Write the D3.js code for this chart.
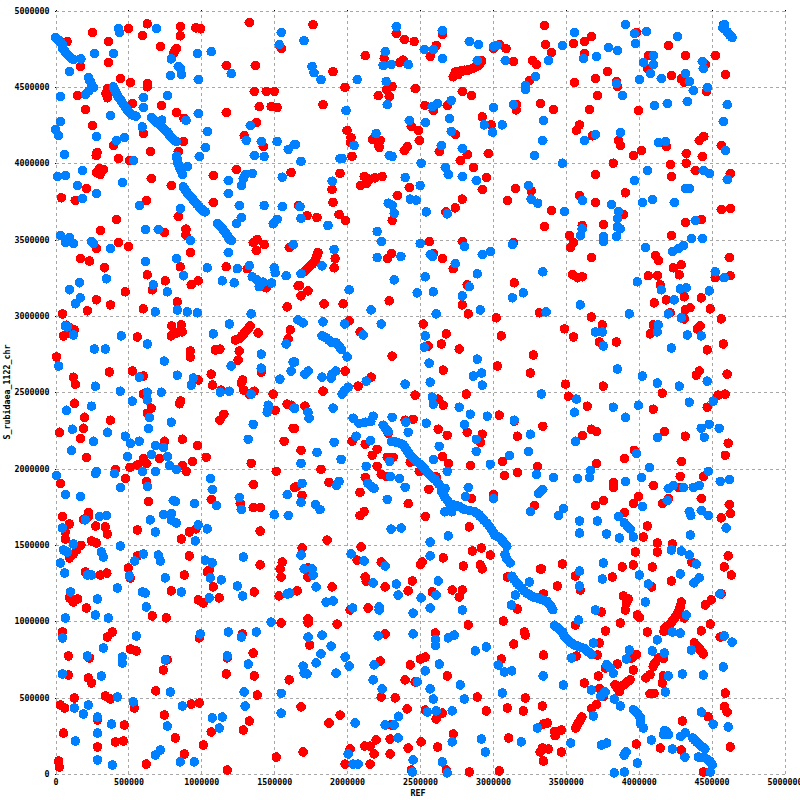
<!DOCTYPE html>
<html><head><meta charset="utf-8">
<script src="https://cdn.jsdelivr.net/npm/d3@7/dist/d3.min.js"></script>
<style>html,body{margin:0;padding:0;background:#fff}svg{display:block}</style>
</head><body><div id="chart"></div>
<script>
const xLabel="REF";
const yLabel="S_rubidaea_1122_chr";
const xTicks=[0,500000,1000000,1500000,2000000,2500000,3000000,3500000,4000000,4500000,5000000];
const yTicks=[0,500000,1000000,1500000,2000000,2500000,3000000,3500000,4000000,4500000,5000000];
// match positions [REF, query] in kilobases
const forwardHits=[
[253,4856],[363,4797],[80,4797],[502,4882],[630,4913],[596,4836],[856,4895],[856,4834],[719,4764],[963,4886],[995,4880],[1329,4921],[820,4740],[831,4751],[813,4723],[363,4659],[171,4633],[1171,4640],[1370,4640],[1548,4751],[445,4555],[514,4528],[630,4522],[630,4500],[356,4489],[347,4456],[356,4428],[363,4460],[151,4443],[527,4391],[726,4378],[205,4352],[829,4332],[1171,4332],[881,4293],[1363,4470],[1445,4470],[1500,4470],[1397,4371],[1479,4371],[1520,4365],[1377,4266],[253,4247],[605,4194],[1294,4181],[877,4142],[397,4116],[285,4070],[279,4050],[651,4077],[842,4077],[1425,4109],[431,4031],[507,4018],[301,3965],[329,3959],[283,3939],[306,3926],[1240,3959],[1082,3919],[1616,3939],[657,3900],[794,3854],[212,3834],[41,3773],[135,3756],[623,3756],[1082,3743],[842,3651],[418,3631],[308,3559],[895,3568],[895,3529],[747,3546],[431,3480],[500,3454],[281,3441],[1383,3500],[1356,3480],[1377,3428],[1431,3467],[1603,3448],[925,3415],[171,3376],
[1766,4908],[1904,4600],[2124,4705],[2337,4849],[2392,4810],[2460,4797],[2254,4686],[2362,4659],[2385,4675],[2611,4771],[2570,4699],[2653,4843],[3044,4777],[3090,4751],[3003,4751],[3140,4666],[3271,4673],[3298,4646],[3250,4541],[2728,4566],[2744,4598],[2808,4609],[2843,4614],[2877,4627],[2907,4646],[2923,4670],[2762,4581],[2785,4605],[2827,4609],[1986,4496],[2213,4443],[2309,4502],[2270,4483],[2289,4437],[2467,4489],[2790,4470],[2852,4443],[1835,4384],[2534,4378],[2591,4345],[2687,4378],[3161,4384],[3161,4349],[3326,4391],[2927,4303],[2989,4251],[2440,4240],[2488,4214],[2000,4214],[2027,4168],[2023,4135],[2176,4155],[2227,4149],[2213,4129],[2220,4103],[2495,4149],[2412,4109],[2392,4083],[2632,4077],[2744,4188],[2824,4057],[2968,4064],[2034,4044],[2776,4018],[2866,3972],[2955,3906],[2927,3828],[1952,3933],[2117,3913],[2190,3904],[2240,3913],[2135,3867],[2092,3854],[2156,3895],[1897,3828],[1904,3743],[2426,3841],[2344,3788],[2790,3765],[2742,3707],[2678,3681],[3154,3834],[3264,3819],[3099,3756],[1668,3723],[1725,3657],[1793,3644],[1945,3664],[1989,3625],[2309,3625],[2563,3487],[2790,3487],[3140,3480],[1911,3435],[1918,3376],[1800,3415],[1789,3387],[1778,3358],[2277,3376],[2305,3409],[2591,3409],[2653,3376],
[3354,4902],[3361,4777],[3402,4725],[3553,4784],[3628,4797],[3628,4718],[3676,4830],[3785,4600],[3703,4555],[3559,4528],[3847,4535],[3854,4502],[3717,4443],[3416,4352],[3662,4352],[3998,4345],[3594,4251],[3573,4216],[3683,4179],[3861,4149],[3874,4116],[4018,4083],[3963,4050],[3826,4000],[3703,3926],[3594,3787],[3909,3806],[3703,3743],[3402,3690],[3354,3586],[3612,3592],[3758,3599],[3895,3664],[3525,3526],[3553,3480],[3532,3448],[3676,3382],[4066,4705],[4059,4620],[3986,4856],[4205,4771],[4320,4705],[4525,4705],[4224,4574],[4292,4552],[4313,4530],[4457,4646],[4594,4581],[4466,4470],[4580,4904],[4224,3526],[4320,3612],[4429,3631],[4566,3697],[4628,3703],[4415,4149],[4447,4175],[4189,4109],[4326,4064],[4326,4000],[4436,4044],[4217,3991],[4224,3913],[4388,3952],[4628,3933],[4566,4116],[4114,3396],[4135,3363],[4621,3382],
[336,3315],[233,3359],[630,3269],[856,3322],[753,3230],[979,3230],[931,3204],[1171,3322],[1315,3309],[1664,3197],[479,3158],[664,3171],[281,3105],[377,3072],[219,3033],[48,3013],[836,3092],[603,3046],[1589,3059],[1445,3184],[73,2939],[100,2921],[128,2910],[55,2869],[89,2884],[797,2934],[863,2941],[870,2895],[831,2888],[794,2869],[561,2862],[1335,2934],[1315,2910],[1292,2884],[1265,2855],[1233,2842],[1390,2888],[1610,2908],[1596,2849],[1128,2783],[1096,2777],[1260,2770],[1253,2711],[925,2770],[925,2731],[7,2731],[370,2632],[527,2639],[603,2606],[123,2599],[137,2553],[1411,2632],[1068,2619],[979,2580],[1283,2580],[1274,2560],[1077,2547],[1137,2514],[1292,2514],[1329,2488],[1363,2507],[1493,2488],[603,2488],[130,2428],[858,2442],[851,2424],[657,2396],[630,2363],[1155,2356],[1128,2317],[1589,2422],[1616,2415],[1507,2382],[199,2336],[377,2317],[192,2264],[27,2238],[171,2198],[1630,2264],[1568,2179],[747,2179],[870,2192],[973,2152],[212,2074],[1034,2074],[941,2047],[603,2067],[562,2023],[626,2034],[511,2008],[712,2067],[870,2019],[897,1982],[1342,2034],[411,1995],[1514,1982],[479,1936],[623,1916],[34,1903],[1356,1896],[1651,1883],[637,1785],[1068,1798],[1267,1771],[1356,1745],[1404,1745],[226,1712],
[1778,3353],[1743,3322],[1709,3293],[1911,3315],[1673,3199],[1732,3164],[1684,3131],[1842,3079],[1973,3079],[2289,3099],[2728,3309],[2824,3204],[2790,3072],[2831,3013],[3147,3217],[3024,2987],[3319,3020],[2014,2967],[2089,2895],[2522,2947],[2680,2882],[3058,2869],[2556,2803],[2646,2816],[2769,2783],[2309,2737],[3278,2744],[3031,2672],[2660,2645],[3257,2626],[1986,2639],[2165,2599],[2076,2540],[1835,2507],[2467,2481],[2818,2488],[2625,2455],[2660,2415],[1711,2409],[3044,2350],[1640,2264],[2453,2323],[2398,2317],[3147,2310],[2625,2258],[2687,2218],[2824,2238],[2927,2225],[2914,2172],[3168,2212],[2282,2231],[2034,2179],[2124,2159],[2206,2126],[2172,2087],[1684,2120],[2275,2074],[2316,2074],[2653,2080],[2694,2034],[3065,2047],[2845,2021],[2433,2041],[2206,2015],[1821,1995],[2495,1982],[3305,2015],[3168,1975],[3079,1955],[2234,1962],[2270,1947],[2124,1942],[2611,1947],[1876,1909],[1640,1877],[2089,1844],[2561,1864],[1691,1824],[3003,1830],[2852,1804],[2419,1771],[3285,1758],[2117,1719],[2089,1693],
[3546,3269],[3580,3250],[3614,3256],[4066,3263],[4128,3263],[4237,3315],[4292,3335],[4279,3269],[4148,3204],[4313,3125],[4429,3118],[4107,3085],[4189,3105],[4525,3250],[4628,3263],[3676,2993],[3491,2915],[3553,2862],[3751,2941],[3731,2829],[3847,2829],[4566,2980],[4491,3046],[4320,3039],[4352,3053],[4313,2980],[4217,3020],[4100,2941],[4080,2882],[4422,2934],[4402,2915],[4580,2816],[4470,2777],[4415,2639],[4395,2612],[4607,2619],[3498,2553],[3758,2540],[4162,2494],[3518,2474],[3648,2409],[4100,2389],[4470,2402],[4545,2481],[4594,2488],[3342,2277],[3676,2258],[3710,2244],[3614,2218],[4176,2244],[4320,2212],[4614,2166],[3970,2120],[4594,2087],[3902,2067],[3710,2034],[4292,2047],[4285,1949],[4443,1949],[4100,1890],[3826,1909],[3826,1877],[4272,1877],[3998,1817],[4429,1804],[3758,1791],[3703,1758],[3963,1771],[3902,1712],[4162,1771],[4203,1804],[4621,1765],[4628,1706],
[48,1687],[192,1668],[226,1687],[96,1637],[276,1624],[342,1618],[356,1572],[68,1585],[68,1539],[562,1598],[863,1539],[918,1585],[963,1605],[1404,1591],[247,1526],[281,1513],[174,1498],[146,1469],[123,1441],[96,1415],[562,1428],[918,1428],[500,1349],[205,1323],[308,1303],[352,1316],[514,1284],[884,1303],[1055,1336],[1041,1323],[1404,1369],[1555,1388],[1541,1343],[1548,1290],[1082,1225],[794,1199],[1534,1166],[1363,1192],[96,1153],[123,1126],[151,1146],[979,1140],[1014,1120],[1123,1153],[212,1087],[664,1035],[760,1022],[1548,989],[48,930],[390,930],[356,897],[1281,917],[986,891],[514,819],[555,806],[89,773],[233,760],[1356,792],[767,747],[1178,760],[740,681],[89,648],[1171,655],[226,629],[247,596],[1363,642],[1603,616],[687,544],[1384,517],[130,498],[342,511],[377,491],[34,452],[62,432],[541,432],[931,458],[986,465],[747,386],[288,354],[473,321],[1329,347],[55,268],[1068,275],[1288,288],[822,236],[411,210],[466,216],[288,177],[1014,190],[884,131],[1514,111],[21,85],[27,46],[623,65],[1178,26],
[2536,1687],[2838,1618],[1863,1532],[1691,1480],[2096,1487],[1659,1199],[2859,1460],[2921,1480],[2982,1434],[2660,1415],[2515,1388],[2502,1371],[2797,1362],[2069,1401],[2234,1388],[2914,1369],[2927,1343],[1732,1349],[1732,1290],[3099,1290],[3326,1343],[2124,1290],[2131,1262],[2447,1264],[1897,1225],[2261,1225],[2419,1199],[2584,1192],[2721,1205],[2790,1205],[2769,1159],[3168,1081],[2144,1087],[2021,1074],[1732,1015],[1732,989],[1931,982],[2831,976],[3072,1002],[2261,917],[2605,923],[3216,930],[3223,910],[1743,845],[3143,851],[3058,753],[2502,753],[2536,766],[2227,740],[2433,714],[2687,642],[2398,616],[2467,603],[2234,504],[2330,498],[2893,504],[3223,498],[1684,439],[2412,426],[3099,432],[3209,413],[2536,419],[2653,399],[2955,413],[1952,386],[2611,360],[1876,334],[2302,321],[2728,262],[3108,236],[2199,223],[2295,229],[2508,210],[2121,183],[2158,183],[2021,164],[2185,131],[2295,131],[2419,170],[2621,177],[1698,144],[1986,65],[2158,65],[2440,26],[2680,26],[2838,13],[3044,20],
[4566,1677],[4059,1624],[4032,1552],[4128,1513],[4231,1506],[3977,1454],[4128,1454],[4614,1428],[3477,1375],[3333,1343],[3888,1356],[3963,1369],[4094,1356],[4587,1356],[4635,1303],[3566,1297],[3820,1290],[4363,1388],[4224,1264],[3443,1231],[3600,1205],[4089,1225],[3347,1179],[3895,1166],[3929,1146],[3915,1119],[4566,1179],[3909,1074],[3744,1061],[3991,1041],[4005,1026],[4292,1126],[4283,1087],[4265,1048],[4244,1017],[4215,982],[4180,956],[4174,934],[4313,1022],[4498,1140],[4457,1107],[3874,989],[4491,982],[3566,976],[4429,937],[3772,937],[4059,930],[4559,897],[3731,858],[3717,779],[3573,773],[3347,779],[4381,858],[4402,836],[4425,810],[4443,786],[3986,781],[3952,760],[4169,755],[4135,760],[4112,727],[4100,705],[3854,720],[3772,694],[3963,681],[3724,642],[3628,596],[4169,642],[4162,596],[4078,651],[4050,629],[3941,618],[3913,596],[3884,574],[3854,559],[3868,541],[3838,585],[4105,528],[4078,526],[4594,530],[3731,559],[3758,509],[3340,445],[4587,441],[4607,406],[4477,375],[4299,347],[3712,454],[3678,428],[3610,373],[3587,334],[3568,301],[3374,334],[3347,327],[3470,288],[3422,279],[3427,251],[3340,170],[3381,164],[3324,144],[3470,144],[3347,85],[3984,196],[4148,170],[4292,157],[4628,177],[4443,13]
];
const forwardStrips=[
[1249,2848],[1279,2870],[1303,2897],[1325,2922],[4288,1106],[4274,1068],[4254,1032],[4230,1000],[4197,969],[3927,607],[3898,585],[3869,566],[2736,4582],[2773,4593],[2818,4609],[2860,4620],[2892,4636],[1795,3400],[1784,3372],[1760,3337],[1726,3307],[4392,847],[4414,823],[4434,798],[3599,353],[3577,317]
];
const reverseHits=[
[0,4823],[18,4808],[37,4790],[50,4773],[50,4751],[68,4729],[87,4707],[105,4690],[123,4679],[174,4683],[267,4718],[397,4718],[431,4882],[438,4856],[692,4882],[1548,4856],[1534,4777],[1068,4731],[973,4718],[795,4683],[842,4633],[856,4620],[788,4574],[863,4581],[979,4548],[1205,4587],[96,4600],[226,4561],[237,4537],[249,4515],[260,4496],[226,4472],[205,4450],[34,4437],[397,4500],[409,4472],[431,4435],[454,4402],[477,4369],[500,4341],[523,4319],[552,4308],[602,4430],[602,4365],[767,4443],[377,4312],[979,4325],[34,4273],[0,4221],[21,4181],[281,4175],[657,4300],[685,4277],[712,4253],[728,4282],[740,4227],[767,4205],[785,4179],[808,4155],[831,4142],[596,4238],[895,4280],[1336,4247],[1041,4208],[1308,4149],[418,4149],[473,4168],[1411,4142],[1520,4142],[1637,4122],[1596,4090],[62,4057],[1027,4103],[986,4044],[1363,4050],[1431,4044],[534,4018],[831,4046],[836,4009],[849,3976],[865,3943],[870,3926],[904,3978],[185,3952],[14,3913],[68,3919],[459,3874],[151,3854],[281,3801],[185,3769],[1185,3887],[1185,3801],[1555,3908],[1349,3933],[1301,3926],[1288,3900],[1276,3854],[877,3845],[899,3812],[927,3780],[957,3747],[986,3714],[1009,3692],[1027,3681],[575,3723],[1260,3723],[1431,3723],[1555,3716],[856,3703],[1274,3644],[1242,3605],[1520,3633],[1493,3603],[616,3566],[705,3566],[1110,3605],[1139,3577],[1162,3550],[1180,3524],[1196,3500],[1208,3494],[34,3526],[96,3513],[68,3480],[123,3474],[247,3487],[260,3474],[377,3441],[925,3494],[1630,3467],[1185,3415],[829,3376],
[1705,4803],[1760,4633],[1773,4592],[1821,4548],[2069,4548],[2337,4895],[2261,4731],[2247,4640],[2302,4646],[2419,4646],[2529,4745],[2591,4745],[2653,4869],[2653,4686],[2838,4797],[2900,4777],[3003,4764],[3030,4773],[2893,4673],[3085,4673],[3292,4568],[3223,4509],[3223,4483],[2268,4535],[2275,4384],[1993,4345],[2618,4391],[2584,4371],[2714,4411],[3140,4384],[3003,4365],[2426,4280],[2536,4267],[2701,4293],[2941,4251],[3065,4251],[2714,4208],[2998,4203],[2199,4194],[2048,4116],[2646,4116],[2790,4096],[1645,4122],[2289,4050],[2309,4044],[1952,4031],[1966,4031],[1684,4012],[3285,4050],[2508,4000],[2673,3972],[2694,3926],[2790,3913],[2886,3887],[2398,3906],[2501,3854],[1897,3882],[3243,3854],[2433,3765],[2474,3758],[2282,3738],[2309,3725],[2323,3671],[3262,3765],[3307,3738],[2543,3681],[2687,3668],[1677,3716],[1684,3638],[1869,3592],[2206,3553],[2234,3487],[2501,3474],[2804,3454],[3134,3467],[1911,3435],[2206,3382],[2369,3389],[2570,3402],[2584,3389],[2927,3402],[2985,3422],
[3909,4908],[3559,4856],[3477,4771],[3381,4673],[3621,4686],[3710,4699],[3792,4757],[3854,4738],[3973,4849],[4052,4862],[3977,4784],[4265,4830],[4100,4705],[4032,4659],[4100,4646],[4080,4587],[4005,4548],[4155,4555],[4320,4587],[4347,4535],[4436,4666],[4443,4620],[4374,4476],[4470,4496],[3849,4522],[3888,4443],[4587,4908],[4607,4860],[4625,4838],[4641,4823],[4107,4378],[4196,4391],[4333,4404],[4607,4384],[3347,4280],[4580,4273],[3342,4149],[3628,4149],[3703,4188],[3874,4201],[4135,4135],[4183,4142],[4594,4083],[3477,4000],[4059,3952],[3970,3887],[4443,3952],[4484,3933],[4607,3893],[4320,3834],[4347,3834],[3614,3756],[3813,3730],[4025,3743],[4094,3762],[4244,3743],[3491,3683],[3861,3683],[3854,3636],[3854,3583],[3874,3570],[3612,3570],[3600,3526],[3758,3520],[3758,3487],[3847,3520],[4388,3625],[4361,3507],[4436,3507],[4046,3448],[4231,3422],[4272,3441],[4306,3461],
[616,3355],[1041,3315],[1247,3309],[1329,3329],[877,3263],[1500,3315],[1507,3283],[1582,3263],[1144,3230],[1226,3217],[349,3243],[164,3217],[96,3171],[671,3204],[767,3158],[171,3118],[137,3079],[1349,3256],[1379,3239],[1425,3221],[1482,3215],[1397,3191],[836,3039],[904,3026],[973,3020],[685,3026],[1342,3013],[1192,2947],[1082,2882],[452,2869],[123,2875],[68,2934],[82,2928],[1582,2816],[630,2816],[267,2783],[342,2783],[1411,2750],[747,2704],[21,2672],[1205,2672],[1630,2698],[1616,2639],[1411,2658],[575,2599],[836,2612],[945,2593],[931,2547],[1539,2586],[274,2540],[445,2507],[630,2500],[630,2450],[726,2500],[1130,2500],[1192,2507],[1342,2488],[527,2442],[247,2409],[75,2382],[1637,2396],[1459,2415],[1459,2396],[1452,2369],[644,2336],[794,2304],[1356,2290],[637,2264],[116,2258],[356,2238],[479,2212],[260,2179],[514,2166],[575,2179],[1322,2192],[685,2152],[740,2139],[110,2120],[657,2093],[493,2080],[767,2080],[781,2021],[829,1993],[685,1982],[596,1982],[281,1982],[274,1969],[404,1969],[7,1956],[1062,1936],[1075,1863],[445,1877],[630,1883],[68,1830],[171,1817],[1589,1830],[1260,1811],[1274,1732],[808,1791],[822,1785],[952,1771],[1103,1758],[740,1700],[794,1706],[1500,1699],[1596,1693],
[1828,3328],[1684,3276],[2742,3342],[2893,3276],[2536,3256],[2323,3236],[2838,3191],[2014,3171],[2481,3151],[2591,3158],[2790,3131],[3209,3151],[3134,3118],[2165,3039],[2611,3013],[2914,3039],[1663,2974],[1698,2954],[1835,2961],[1984,2947],[2234,2947],[2110,2875],[1828,2869],[1858,2855],[1888,2829],[1927,2823],[1945,2801],[1961,2779],[2000,2731],[2536,2869],[2529,2796],[2893,2717],[2563,2691],[1640,2698],[1732,2639],[1711,2619],[1828,2599],[1922,2639],[1897,2619],[1890,2593],[2131,2573],[2398,2553],[2570,2566],[2007,2533],[1984,2512],[1966,2488],[2866,2606],[2923,2626],[2927,2547],[2584,2468],[2591,2422],[1904,2396],[2769,2402],[1640,2396],[1732,2369],[1739,2330],[3147,2317],[2845,2356],[2962,2343],[2309,2336],[2041,2330],[2082,2297],[2126,2304],[2163,2308],[2179,2343],[2403,2304],[2543,2297],[2804,2290],[2247,2284],[2263,2264],[2282,2242],[2419,2238],[3257,2225],[2062,2212],[1911,2172],[2160,2185],[2886,2192],[2632,2146],[2886,2113],[3243,2113],[1794,2106],[3113,2087],[1959,2060],[2593,2060],[2293,2047],[1684,2034],[2982,2028],[2131,2015],[2687,1982],[3298,1962],[2305,2179],[2350,2170],[2385,2155],[2408,2122],[2431,2089],[2465,2056],[2500,2030],[2534,1995],[2568,1958],[2603,1929],[2630,1898],[2298,1949],[2360,1936],[2144,1903],[2167,1881],[2185,1870],[1945,1916],[1927,1890],[1691,1903],[2398,1877],[2831,1877],[2648,1848],[2671,1811],[2705,1771],[2739,1760],[2774,1749],[2808,1732],[2671,1870],[2813,1817],[3003,1804],[3312,1837],[2275,1798],[1684,1778],[1782,1765],[1814,1732],[3257,1719],[2671,1717],[2717,1717],[2877,1717],[2907,1696],
[3342,3289],[3991,3223],[4525,3289],[4587,3250],[4155,3171],[4285,3177],[4326,3184],[4484,3164],[4244,3105],[3600,3072],[3936,3013],[3365,3026],[4203,3013],[4292,2987],[4135,2941],[4128,2895],[3703,2895],[3751,2895],[4333,2875],[4429,2869],[3758,2803],[4224,2790],[3854,2652],[4025,2606],[4128,2560],[4470,2573],[4279,2540],[3333,2488],[3573,2455],[3559,2369],[3826,2402],[3998,2415],[4347,2435],[4511,2442],[3909,2336],[4484,2290],[4429,2264],[4552,2264],[4128,2205],[4450,2205],[3566,2179],[3986,2100],[4073,2008],[4477,1982],[3669,1988],[3662,1942],[3416,1942],[3580,1936],[3909,1916],[4018,1942],[4559,1916],[4621,1929],[4237,1890],[4203,1870],[4306,1877],[4374,1877],[4415,1890],[3342,1863],[3324,1848],[4196,1791],[4025,1752],[3484,1739],[3450,1693],[3861,1686],[4347,1719],[4358,1693],[4429,1726],[4477,1693],
[301,1687],[349,1694],[651,1664],[740,1698],[794,1664],[829,1644],[205,1664],[48,1611],[685,1585],[979,1631],[1041,1605],[959,1526],[123,1506],[55,1467],[82,1454],[445,1493],[315,1454],[329,1421],[603,1441],[543,1395],[705,1434],[719,1395],[34,1382],[62,1316],[1027,1401],[1075,1382],[1288,1421],[219,1303],[247,1303],[507,1297],[753,1284],[1062,1284],[1137,1271],[425,1218],[1247,1231],[103,1192],[596,1192],[616,1185],[863,1192],[1283,1166],[288,1146],[1055,1153],[1589,1179],[1607,1185],[623,1094],[274,1041],[363,1022],[68,1022],[1479,995],[993,917],[1185,930],[1377,930],[1274,897],[48,891],[555,904],[329,825],[219,773],[459,766],[459,727],[753,747],[1178,773],[1322,720],[48,655],[315,642],[788,537],[1294,537],[1548,528],[425,504],[534,472],[226,452],[130,432],[192,393],[870,445],[1301,445],[1548,399],[288,373],[1075,367],[1144,373],[384,327],[767,314],[1123,301],[288,268],[137,216],[719,157],[685,124],[288,92],[390,59],[856,79],[952,79],
[2302,1604],[2371,1611],[2570,1519],[2694,1559],[1684,1434],[2027,1441],[2117,1395],[2261,1362],[2570,1428],[1705,1343],[1760,1343],[1767,1303],[1787,1225],[2179,1251],[2337,1244],[2625,1264],[2350,1172],[2611,1172],[2508,1153],[1856,1126],[1904,1133],[2039,1087],[2220,1094],[2220,1074],[2570,1087],[2453,1054],[2790,1074],[3250,1257],[3154,1172],[3127,1107],[2923,1677],[2957,1644],[2992,1600],[3014,1563],[3049,1546],[3072,1519],[3095,1491],[3083,1436],[3095,1410],[3118,1382],[3129,1295],[3163,1251],[3198,1218],[3232,1185],[3266,1164],[3301,1153],[2213,904],[2453,917],[2605,880],[2605,841],[2694,891],[2735,910],[1732,897],[1828,910],[1890,838],[2955,832],[2879,806],[1821,786],[1986,766],[1787,727],[1698,707],[2014,707],[2185,714],[2632,720],[3037,714],[3079,668],[3129,675],[2536,675],[1705,661],[1725,655],[1924,661],[2179,616],[2481,603],[2240,557],[2570,557],[2776,583],[3065,530],[2591,491],[2804,491],[2550,406],[2611,413],[2721,413],[2353,378],[2055,334],[2261,321],[2323,321],[3305,301],[2350,236],[2721,210],[2921,229],[3195,210],[2948,144],[2007,131],[2041,65],[2076,65],[2453,92],[2653,79],[2447,13],[2687,7],
[3594,1657],[3594,1578],[3717,1657],[3902,1644],[3922,1622],[3941,1605],[3779,1572],[3868,1546],[3963,1552],[4354,1565],[4600,1611],[4224,1467],[4292,1460],[4347,1434],[4395,1375],[3758,1382],[3594,1329],[4005,1303],[3751,1277],[4285,1310],[4415,1284],[4379,1251],[4066,1244],[3594,1231],[4557,1179],[4046,1126],[3336,1142],[3370,1131],[3393,1105],[3411,1076],[3703,1074],[4326,1041],[3587,1008],[3422,974],[3450,952],[3479,930],[3495,895],[3525,869],[3553,847],[3580,838],[3632,819],[3655,799],[3678,782],[3689,858],[3539,760],[4231,930],[4285,923],[4128,878],[4587,904],[4641,864],[4361,812],[3936,812],[3915,753],[4094,806],[4176,792],[4580,701],[3781,716],[3804,694],[3826,661],[3345,642],[4203,642],[4299,655],[4443,648],[3484,583],[3676,550],[4183,537],[3769,537],[3740,509],[3833,491],[3874,445],[3963,421],[3991,395],[4014,367],[4014,327],[4032,301],[3689,380],[4429,406],[4511,327],[4614,308],[4176,284],[4169,258],[4203,258],[4192,279],[4087,223],[3534,203],[3781,203],[3744,190],[4320,269],[4288,247],[4370,236],[4397,210],[4425,186],[4454,164],[4231,164],[4317,111],[4409,111],[4454,105],[4488,83],[4504,61],[3913,144],[3900,122],[3991,72],[3833,7],[3902,13],[4491,13]
];
const reverseStrips=[
[2330,2175],[2368,2163],[2397,2138],[2420,2105],[2448,2072],[2483,2043],[2517,2012],[2551,1976],[2586,1943],[2617,1913],[2660,1830],[2688,1790],[2722,1765],[2756,1755],[2791,1740],[2840,1725],[2892,1706],[2908,1690],[2940,1660],[2975,1622],[3003,1580],[3032,1555],[3060,1532],[3084,1505],[3146,1273],[3180,1234],[3215,1200],[3249,1175],[3283,1158],[3320,1148],[3353,1136],[3381,1118],[3402,1090],[3436,963],[3465,941],[3487,912],[3510,882],[3539,858],[3567,842],[3606,828],[3644,809],[3667,790],[403,4486],[420,4453],[443,4418],[465,4385],[488,4355],[511,4330],[537,4313],[671,4288],[698,4265],[726,4240],[753,4216],[776,4192],[796,4167],[820,4148],[888,3828],[913,3796],[942,3763],[971,3730],[998,3703],[1018,3686],[9,4815],[28,4799],[59,4740],[78,4718],[96,4698],[114,4684],[1125,3591],[1150,3563],[1171,3537],[1188,3512],[3977,408],[4002,381],[4014,347],[4383,223],[4411,198],[4440,175],[4431,108],[4471,94],[4496,72],[1843,2862],[1873,2842],[1907,2826],[1936,2812],[1953,2790],[4578,4884],[4616,4849],[834,4028],[842,3992],[857,3960],[4011,347]
];
const forwardColor="#ff0000", reverseColor="#0080ff", gridColor="#a8a8a8";

const svg=d3.select("#chart").append("svg").attr("width",800).attr("height",800)
  .style("font-family","'DejaVu Sans Mono',monospace");
const x=d3.scaleLinear().domain([0,5000000]).range([55.5,784.5]);
const y=d3.scaleLinear().domain([0,5000000]).range([774,10.5]);

// grid lines drawn by the axes themselves
const gridX=svg.append("g").attr("transform","translate(0,774)")
  .call(d3.axisBottom(x).tickValues(xTicks).tickSize(-763.5).tickFormat(""));
const gridY=svg.append("g").attr("transform","translate(55.5,0)")
  .call(d3.axisLeft(y).tickValues(yTicks).tickSize(-729).tickFormat(""));
[gridX,gridY].forEach(g=>{
  g.select(".domain").remove();
  g.selectAll("line").attr("stroke",gridColor).attr("stroke-dasharray","3,3").attr("shape-rendering","crispEdges");
});

// tick labels
const labX=svg.append("g").attr("transform","translate(0,774)")
  .call(d3.axisBottom(x).tickValues(xTicks).tickSize(0).tickPadding(5).tickFormat(d3.format("d")));
const labY=svg.append("g").attr("transform","translate(55.5,0)")
  .call(d3.axisLeft(y).tickValues(yTicks).tickSize(1).tickPadding(5).tickFormat(d3.format("d")));
// tiny marks where the vertical grid lines meet the top
const topTicks=svg.append("g").attr("transform","translate(0,10.5)")
  .call(d3.axisTop(x).tickValues(xTicks).tickSize(1).tickFormat(""));
topTicks.select(".domain").remove();
topTicks.selectAll("line").attr("stroke","#000").attr("shape-rendering","crispEdges");
[labX,labY].forEach(g=>{
  g.select(".domain").remove();
  g.selectAll("line").attr("stroke","#000").attr("shape-rendering","crispEdges");
  g.selectAll("text").attr("fill","#000").style("font-size","8.3px").style("font-weight","bold")
    .style("font-family","'DejaVu Sans Mono',monospace");
});

// hits: forward first, reverse on top
function dots(data,color){
  svg.append("g").selectAll("circle").data(data).join("circle")
    .attr("cx",d=>x(d[0]*1000)).attr("cy",d=>y(d[1]*1000))
    .attr("r",4.8).attr("fill",color).attr("shape-rendering","crispEdges");
}
dots(forwardHits.concat(forwardStrips),forwardColor);
dots(reverseHits.concat(reverseStrips),reverseColor);

svg.append("text").attr("x",418).attr("y",796).attr("text-anchor","middle")
  .attr("fill","#000").style("font-size","8.3px").style("font-weight","bold").text(xLabel);
svg.append("text").attr("transform","translate(10,392) rotate(-90)").attr("text-anchor","middle")
  .attr("fill","#000").style("font-size","8.3px").style("font-weight","bold").text(yLabel);
</script></body></html>
